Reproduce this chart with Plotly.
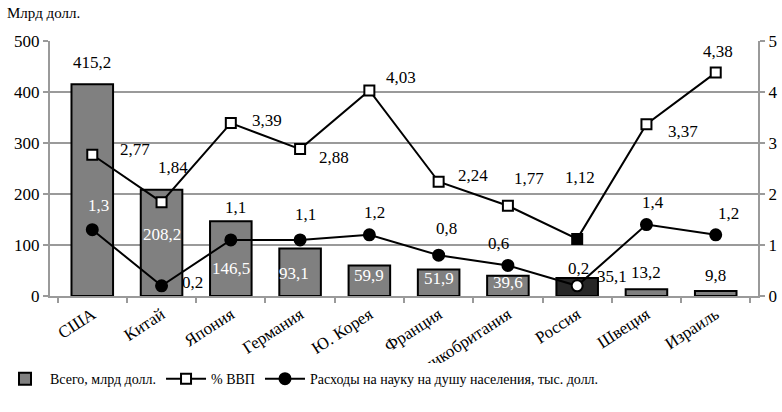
import plotly.graph_objects as go

countries = ["США", "Китай", "Япония", "Германия", "Ю. Корея", "Франция",
             "Великобритания", "Россия", "Швеция", "Израиль"]
total_bn = [415.2, 208.2, 146.5, 93.1, 59.9, 51.9, 39.6, 35.1, 13.2, 9.8]
gdp_share = [2.77, 1.84, 3.39, 2.88, 4.03, 2.24, 1.77, 1.12, 3.37, 4.38]
per_capita = [1.3, 0.2, 1.1, 1.1, 1.2, 0.8, 0.6, 0.2, 1.4, 1.2]

# label offsets (px) for each series
total_off = [(0, -22), (0, 45), (0, 47), (-6, 25), (0, 10), (0, 9), (0, 7), (35, -2), (0, -17), (0, -16)]
total_col = ["black", "white", "white", "white", "white", "white", "white", "black", "black", "black"]
gdp_off = [(43, -5), (11, -35), (36, -3), (34, 8), (32, -13), (34, -6), (21, -27), (3, -61), (37, 7), (2, -21)]
pc_off = [(6, -24), (31, -3), (5, -32), (5, -25), (5, -22), (8, -27), (-9, -22), (1, -17), (7, -22), (13, -21)]
pc_col = ["white"] + ["black"] * 9

FONT = "Liberation Serif"
GRID = "#9a9a9a"
HIGHLIGHT = "Россия"

def fmt(v):
    return f"{v:g}".replace(".", ",")

bar_colors = ["#262626" if c == HIGHLIGHT else "#808080" for c in countries]
sq_colors = ["black" if c == HIGHLIGHT else "white" for c in countries]
dot_colors = ["white" if c == HIGHLIGHT else "black" for c in countries]

fig = go.Figure()
fig.add_trace(go.Bar(
    x=countries, y=total_bn, name="Всего, млрд долл.",
    marker=dict(color=bar_colors, line=dict(color="black", width=2)),
    width=0.6, yaxis="y",
))
fig.add_trace(go.Scatter(
    x=countries, y=gdp_share, name="% ВВП", mode="lines+markers", yaxis="y2",
    line=dict(color="black", width=2),
    marker=dict(symbol="square", size=10, color=sq_colors, line=dict(color="black", width=2)),
))
fig.add_trace(go.Scatter(
    x=countries, y=per_capita, name="Расходы на науку на душу населения, тыс. долл.",
    mode="lines+markers", yaxis="y2",
    line=dict(color="black", width=2),
    marker=dict(symbol="circle", size=11, color=dot_colors, line=dict(color="black", width=2)),
))

ann = []
for c, v, (dx, dy), col in zip(countries, total_bn, total_off, total_col):
    ann.append(dict(x=c, y=v, xref="x", yref="y", text=fmt(v), showarrow=False,
                    xshift=dx, yshift=-dy, font=dict(color=col, size=17, family=FONT)))
for c, v, (dx, dy) in zip(countries, gdp_share, gdp_off):
    ann.append(dict(x=c, y=v, xref="x", yref="y2", text=fmt(v), showarrow=False,
                    xshift=dx, yshift=-dy, font=dict(color="black", size=17, family=FONT)))
for c, v, (dx, dy), col in zip(countries, per_capita, pc_off, pc_col):
    ann.append(dict(x=c, y=v, xref="x", yref="y2", text=fmt(v), showarrow=False,
                    xshift=dx, yshift=-dy, font=dict(color=col, size=17, family=FONT)))
# unit caption above the left axis
ann.append(dict(x=-0.064, y=1.11, xref="paper", yref="paper", text="Млрд долл.", showarrow=False,
                xanchor="left", yanchor="middle", font=dict(size=15, family=FONT, color="black")))

fig.update_layout(
    width=782, height=412,
    margin=dict(l=50, r=24, t=41, b=116, autoexpand=False),
    plot_bgcolor="white", paper_bgcolor="white",
    font=dict(family=FONT, size=16, color="black"),
    showlegend=True,
    legend=dict(orientation="h", xref="container", yref="container",
                x=0.0, y=0.08, xanchor="left", yanchor="middle",
                font=dict(size=14, family=FONT, color="black"), itemwidth=40, tracegroupgap=0),
    annotations=ann,
    xaxis=dict(type="category", tickangle=-33, showgrid=False, automargin=False,
               showline=True, linecolor=GRID, linewidth=2,
               ticks="outside", tickson="boundaries", ticklen=5, tickcolor=GRID, tickwidth=2,
               tickfont=dict(size=17, family=FONT, color="black")),
    yaxis=dict(range=[0, 500], dtick=100, showgrid=True, gridcolor=GRID, gridwidth=2, automargin=False,
               showline=True, linecolor=GRID, linewidth=2, zeroline=False,
               ticks="outside", ticklen=5, tickcolor=GRID, tickwidth=2,
               tickfont=dict(size=17, family=FONT, color="black")),
    yaxis2=dict(range=[0, 5], dtick=1, overlaying="y", side="right", showgrid=False, automargin=False,
                showline=True, linecolor=GRID, linewidth=2, zeroline=False,
                ticks="outside", ticklen=5, tickcolor=GRID, tickwidth=2,
                tickfont=dict(size=17, family=FONT, color="black")),
)

fig.write_html("out.html")
